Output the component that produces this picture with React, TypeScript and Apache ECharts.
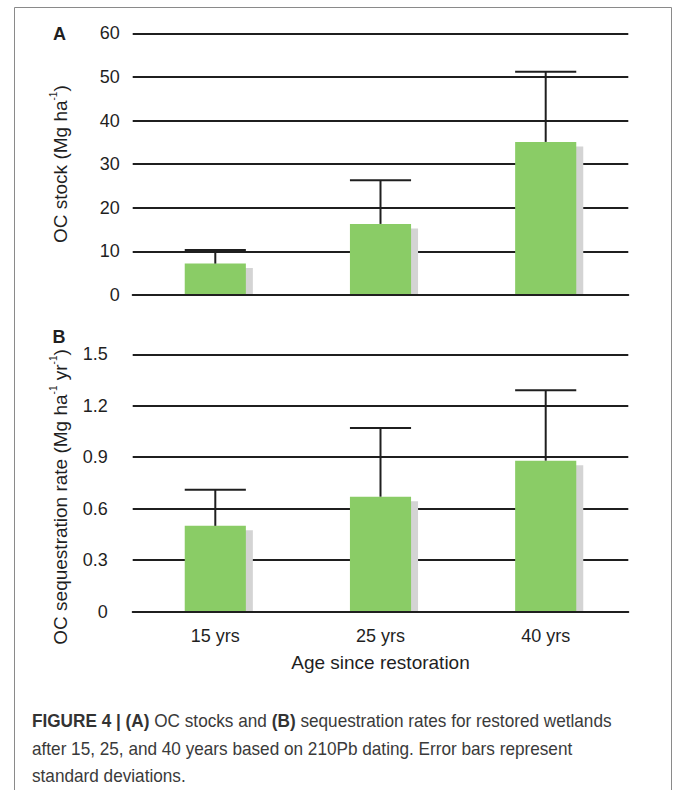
import React, { useEffect, useRef } from "react";
import * as echarts from "echarts";

const categories = ["15 yrs", "25 yrs", "40 yrs"];
const stockMean = [7.2, 16.3, 35.1];
const stockSD = [3.1, 10.0, 16.1];
const rateMean = [0.5, 0.67, 0.88];
const rateSD = [0.21, 0.4, 0.41];
const stockAxis = { min: 0, max: 60, interval: 10 };
const rateAxis = { min: 0, max: 1.5, interval: 0.3 };
const captionLines = [
  "{b|FIGURE 4 | (A)}{n| OC stocks and }{b|(B)}{n| sequestration rates for restored wetlands}",
  "{n|after 15, 25, and 40 years based on 210Pb dating. Error bars represent}",
  "{n|standard deviations.}",
];

const FONT = "Liberation Sans, Arial, sans-serif";
const INK = "#1f1f1f";
const GREEN = "#8acc66";
const SHADOW = "#d4d4d4";
const BAR_RATIO = 0.37;

const shadowRender = (_p: any, api: any) => {
  const idx = api.value(0);
  const top = api.coord([idx, api.value(1)]);
  const base = api.coord([idx, 0]);
  const w = api.size([1, 0])[0] * BAR_RATIO;
  return {
    type: "rect",
    shape: { x: top[0] - w / 2 + 7, y: top[1] + 4.5, width: w, height: Math.max(0, base[1] - top[1] - 4.5) },
    style: { fill: SHADOW },
  };
};

const errRender = (_p: any, api: any) => {
  const idx = api.value(0);
  const top = api.coord([idx, api.value(1)]);
  const hi = api.coord([idx, api.value(2)]);
  const w = api.size([1, 0])[0] * BAR_RATIO;
  const st = { stroke: INK, lineWidth: 2 };
  return {
    type: "group",
    children: [
      { type: "line", shape: { x1: top[0], y1: top[1], x2: hi[0], y2: hi[1] }, style: st },
      { type: "line", shape: { x1: hi[0] - w / 2, y1: hi[1], x2: hi[0] + w / 2, y2: hi[1] }, style: st },
    ],
  };
};

const nameRich = {
  n: { fontSize: 19, color: INK, fontFamily: FONT, lineHeight: 24 },
  s: { fontSize: 10, color: INK, fontFamily: FONT, lineHeight: 12, verticalAlign: "top" },
};

export default function App() {
  const ref = useRef<HTMLDivElement>(null);
  useEffect(() => {
    if (!ref.current) return;
    const chart = echarts.init(ref.current, null, { renderer: "svg" });
    const xBase = (gi: number, showLabels: boolean) => ({
      type: "category",
      gridIndex: gi,
      data: categories,
      z: 5,
      axisLine: { show: true, lineStyle: { color: INK, width: 2 } },
      axisTick: { show: false },
      axisLabel: { show: showLabels, fontSize: 18, color: INK, fontFamily: FONT, margin: 15 },
      splitLine: { show: false },
    });
    const yBase = (gi: number) => ({
      type: "value",
      gridIndex: gi,
      axisLine: { show: false },
      axisTick: { show: false },
      splitLine: { show: true, lineStyle: { color: INK, width: 2 } },
      axisLabel: { fontSize: 18, color: INK, fontFamily: FONT, margin: 13 },
      nameLocation: "middle",
      nameRotate: 90,
      nameGap: 60,
    });
    chart.setOption({
      animation: false,
      backgroundColor: "#ffffff",
      grid: [
        { left: 132.7, top: 33.3, width: 495.6, height: 261.7 },
        { left: 132.7, top: 354.3, width: 495.6, height: 257.3 },
      ],
      xAxis: [
        xBase(0, false),
        {
          ...xBase(1, true),
          name: "Age since restoration",
          nameLocation: "middle",
          nameGap: 41,
          nameTextStyle: { fontSize: 19, color: INK, fontFamily: FONT },
        },
      ],
      yAxis: [
        {
          ...yBase(0),
          ...stockAxis,
          name: "{n|OC stock (Mg ha}{s|-1}{n|)}",
          nameTextStyle: { rich: nameRich },
        },
        {
          ...yBase(1),
          ...rateAxis,
          axisLabel: {
            fontSize: 18, color: INK, fontFamily: FONT, margin: 25,
            formatter: (v: number) => (v === 0 ? "0" : v.toFixed(1)),
          },
          name: "{n|OC sequestration rate (Mg ha}{s|-1}{n| yr}{s|-1}{n|)}",
          nameTextStyle: { rich: nameRich, padding: [0, 28, 0, 0] },
        },
      ],
      series: [
        {
          type: "custom", xAxisIndex: 0, yAxisIndex: 0, z: 1, renderItem: shadowRender,
          data: stockMean.map((m, i) => [i, m]), encode: { x: 0, y: 1 },
        },
        {
          type: "bar", xAxisIndex: 0, yAxisIndex: 0, z: 2, barWidth: BAR_RATIO * 100 + "%",
          itemStyle: { color: GREEN }, data: stockMean,
        },
        {
          type: "custom", xAxisIndex: 0, yAxisIndex: 0, z: 3, renderItem: errRender,
          data: stockMean.map((m, i) => [i, m, m + stockSD[i]]), encode: { x: 0, y: [1, 2] },
        },
        {
          type: "custom", xAxisIndex: 1, yAxisIndex: 1, z: 1, renderItem: shadowRender,
          data: rateMean.map((m, i) => [i, m]), encode: { x: 0, y: 1 },
        },
        {
          type: "bar", xAxisIndex: 1, yAxisIndex: 1, z: 2, barWidth: BAR_RATIO * 100 + "%",
          itemStyle: { color: GREEN }, data: rateMean,
        },
        {
          type: "custom", xAxisIndex: 1, yAxisIndex: 1, z: 3, renderItem: errRender,
          data: rateMean.map((m, i) => [i, m, m + rateSD[i]]), encode: { x: 0, y: [1, 2] },
        },
      ],
      graphic: [
        {
          type: "rect", z: 10, silent: true,
          shape: { x: 14.5, y: 7.5, width: 657, height: 800 },
          style: { fill: "none", stroke: "#8a8a8a", lineWidth: 1 },
        },
        {
          type: "text", x: 59.5, y: 33.5,
          style: { text: "A", font: `bold 18px ${FONT}`, fill: INK, align: "center", verticalAlign: "middle" },
        },
        {
          type: "text", x: 59, y: 336.7,
          style: { text: "B", font: `bold 18px ${FONT}`, fill: INK, align: "center", verticalAlign: "middle" },
        },
        ...captionLines.map((t, i) => ({
          type: "text",
          x: 32,
          y: 721 + i * 27.5,
          scaleX: 0.955,
          style: {
            text: t,
            verticalAlign: "middle",
            rich: {
              b: { fontSize: 18, fontWeight: "bold", fill: "#333", fontFamily: FONT },
              n: { fontSize: 18, fill: "#3a3a3a", fontFamily: FONT },
            },
          },
        })),
      ],
    });
    return () => chart.dispose();
  }, []);
  return (
    <div
      ref={ref}
      style={{ position: "absolute", left: 0, top: 0, width: 673, height: 790, background: "#fff" }}
    />
  );
}
